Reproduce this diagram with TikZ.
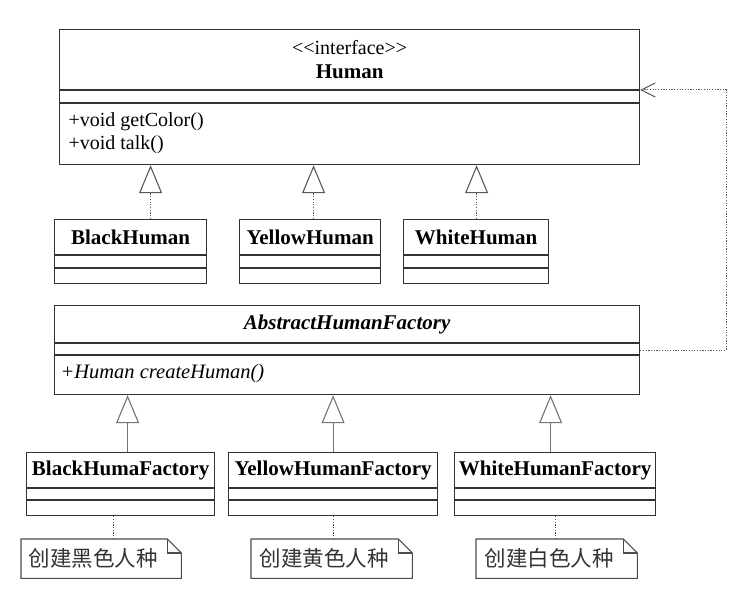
\documentclass[tikz,border=0pt]{standalone}
\usepackage{amsmath}
\usepackage{pgfplots}
\pgfplotsset{compat = newest}
\usepackage{fontspec}
\setmainfont{Liberation Serif}
\newfontfamily\cjk{Noto Sans CJK SC}
\usetikzlibrary{arrows.meta}

\begin{document}
\begin{tikzpicture}[x = 1pt, y = -1pt,
        classbox/.style = {draw = black!80, line width = 1.2pt, inner sep = 0pt, anchor = north west},
        divider/.style = {draw = black!80, line width = 1.2pt},
        classname/.style = {font = {\fontsize{21}{24}\selectfont\bfseries}, black},
        classmember/.style = {font = {\fontsize{20}{24}\selectfont}, black, anchor = west},
        realize/.style = {draw = black!65, line width = 1pt, dash pattern = on 1.2pt off 1.5pt, -{Triangle[open, length = 28pt, width = 23pt, line width = 1.1pt]}},
        generalize/.style = {draw = black!55, line width = 1.1pt, -{Triangle[open, length = 28pt, width = 23pt, line width = 1.1pt]}},
        depend/.style = {draw = black!65, line width = 1pt, dash pattern = on 1.2pt off 1.5pt, -{Straight Barb[length = 14pt, width = 14pt, line width = 1pt]}},
        notelink/.style = {draw = black!70, line width = 1pt, dash pattern = on 1.2pt off 1.5pt},
        noteline/.style = {draw = black!70, line width = 1.1pt},
        notebox/.style = {inner sep = 0pt, anchor = north west, minimum height = 39pt},
        notetext/.style = {font = {\cjk\fontsize{21.5}{24}\selectfont}, black!80, anchor = west}
    ]
        \useasboundingbox (0, 0) rectangle (748, 607);

        \node[classbox, minimum width = 580pt, minimum height = 135pt] (human) at (59, 29) {};
        \draw[divider] ([yshift = -61pt]human.north west) -- ([yshift = -61pt]human.north east);
        \draw[divider] ([yshift = -74pt]human.north west) -- ([yshift = -74pt]human.north east);
        \node[font = {\fontsize{20}{24}\selectfont}, black] (humanstereo) at ([yshift = -19pt]human.north) {<{}<interface>{}>};
        \node[classname] (humanname) at ([yshift = -43pt]human.north) {Human};
        \node[classmember] (getcolor) at ([xshift = 6pt, yshift = -93pt]human.north west) {+void getColor()};
        \node[classmember] (talk) at ([xshift = 6pt, yshift = -116pt]human.north west) {+void talk()};

        \node[classbox, minimum width = 152pt, minimum height = 64pt] (blackhuman) at (54, 219) {};
        \node[classbox, minimum width = 141pt, minimum height = 64pt] (yellowhuman) at (239, 219) {};
        \node[classbox, minimum width = 145pt, minimum height = 64pt] (whitehuman) at (403, 219) {};
        \draw[divider] ([yshift = -36pt]blackhuman.north west) -- ([yshift = -36pt]blackhuman.north east);
        \draw[divider] ([yshift = -49pt]blackhuman.north west) -- ([yshift = -49pt]blackhuman.north east);
        \draw[divider] ([yshift = -36pt]yellowhuman.north west) -- ([yshift = -36pt]yellowhuman.north east);
        \draw[divider] ([yshift = -49pt]yellowhuman.north west) -- ([yshift = -49pt]yellowhuman.north east);
        \draw[divider] ([yshift = -36pt]whitehuman.north west) -- ([yshift = -36pt]whitehuman.north east);
        \draw[divider] ([yshift = -49pt]whitehuman.north west) -- ([yshift = -49pt]whitehuman.north east);
        \node[classname] (blackhumanname) at ([yshift = -18pt]blackhuman.north) {BlackHuman};
        \node[classname] (yellowhumanname) at ([yshift = -18pt]yellowhuman.north) {YellowHuman};
        \node[classname] (whitehumanname) at ([yshift = -18pt]whitehuman.north) {WhiteHuman};

        \draw[realize] ([xshift = 20pt]blackhuman.north) -- ([xshift = 20pt]blackhuman.north |- human.south);
        \draw[realize] ([xshift = 3.5pt]yellowhuman.north) -- ([xshift = 3.5pt]yellowhuman.north |- human.south);
        \draw[realize] ([xshift = 0.5pt]whitehuman.north) -- ([xshift = 0.5pt]whitehuman.north |- human.south);

        \node[classbox, minimum width = 585pt, minimum height = 89pt] (absfactory) at (54, 305) {};
        \draw[divider] ([yshift = -38pt]absfactory.north west) -- ([yshift = -38pt]absfactory.north east);
        \draw[divider] ([yshift = -50pt]absfactory.north west) -- ([yshift = -50pt]absfactory.north east);
        \node[classname, font = {\fontsize{21}{24}\selectfont\bfseries\itshape}] (absfactoryname) at ([yshift = -19pt]absfactory.north) {AbstractHumanFactory};
        \node[classmember, font = {\fontsize{20.5}{24}\selectfont\itshape}] (createhuman) at ([xshift = 3pt, yshift = -69pt]absfactory.north west) {+Human createHuman()};

        \draw[depend] ([yshift = -45pt]absfactory.north east) -- ++(86, 0) |- ([yshift = -61pt]human.north east);

        \node[classbox, minimum width = 188pt, minimum height = 63pt] (blackfactory) at (26, 452) {};
        \node[classbox, minimum width = 209pt, minimum height = 63pt] (yellowfactory) at (228, 452) {};
        \node[classbox, minimum width = 201pt, minimum height = 63pt] (whitefactory) at (454, 452) {};
        \draw[divider] ([yshift = -36pt]blackfactory.north west) -- ([yshift = -36pt]blackfactory.north east);
        \draw[divider] ([yshift = -48pt]blackfactory.north west) -- ([yshift = -48pt]blackfactory.north east);
        \draw[divider] ([yshift = -36pt]yellowfactory.north west) -- ([yshift = -36pt]yellowfactory.north east);
        \draw[divider] ([yshift = -48pt]yellowfactory.north west) -- ([yshift = -48pt]yellowfactory.north east);
        \draw[divider] ([yshift = -36pt]whitefactory.north west) -- ([yshift = -36pt]whitefactory.north east);
        \draw[divider] ([yshift = -48pt]whitefactory.north west) -- ([yshift = -48pt]whitefactory.north east);
        \node[classname] (blackfactoryname) at ([yshift = -18pt]blackfactory.north) {BlackHumaFactory};
        \node[classname] (yellowfactoryname) at ([yshift = -18pt]yellowfactory.north) {YellowHumanFactory};
        \node[classname] (whitefactoryname) at ([yshift = -18pt]whitefactory.north) {WhiteHumanFactory};

        \draw[generalize] ([xshift = 7pt]blackfactory.north) -- ([xshift = 7pt]blackfactory.north |- absfactory.south);
        \draw[generalize] (yellowfactory.north) -- (yellowfactory.north |- absfactory.south);
        \draw[generalize] ([xshift = -4.5pt]whitefactory.north) -- ([xshift = -4.5pt]whitefactory.north |- absfactory.south);

        \node[notebox, minimum width = 160pt] (blacknote) at (21, 539) {};
        \node[notebox, minimum width = 161pt] (yellownote) at (251, 539) {};
        \node[notebox, minimum width = 161pt] (whitenote) at (476, 539) {};
        \draw[noteline] (blacknote.north west) -- ([xshift = -14pt]blacknote.north east) -- ([yshift = -14pt]blacknote.north east) -- (blacknote.south east) -- (blacknote.south west) -- cycle;
        \draw[noteline] ([xshift = -14pt]blacknote.north east) -- ([xshift = -14pt, yshift = -14pt]blacknote.north east) -- ([yshift = -14pt]blacknote.north east);
        \draw[noteline] (yellownote.north west) -- ([xshift = -14pt]yellownote.north east) -- ([yshift = -14pt]yellownote.north east) -- (yellownote.south east) -- (yellownote.south west) -- cycle;
        \draw[noteline] ([xshift = -14pt]yellownote.north east) -- ([xshift = -14pt, yshift = -14pt]yellownote.north east) -- ([yshift = -14pt]yellownote.north east);
        \draw[noteline] (whitenote.north west) -- ([xshift = -14pt]whitenote.north east) -- ([yshift = -14pt]whitenote.north east) -- (whitenote.south east) -- (whitenote.south west) -- cycle;
        \draw[noteline] ([xshift = -14pt]whitenote.north east) -- ([xshift = -14pt, yshift = -14pt]whitenote.north east) -- ([yshift = -14pt]whitenote.north east);
        \node[notetext] (blacknotetext) at ([xshift = 4pt]blacknote.west) {创建黑色人种};
        \node[notetext] (yellownotetext) at ([xshift = 5pt]yellownote.west) {创建黄色人种};
        \node[notetext] (whitenotetext) at ([xshift = 5pt]whitenote.west) {创建白色人种};

        \draw[notelink] ([xshift = -7pt]blackfactory.south) -- ([xshift = -7pt]blackfactory.south |- blacknote.north);
        \draw[notelink] (yellowfactory.south) -- (yellowfactory.south |- yellownote.north);
        \draw[notelink] ([xshift = 0.5pt]whitefactory.south) -- ([xshift = 0.5pt]whitefactory.south |- whitenote.north);
    \end{tikzpicture}
\end{document}
